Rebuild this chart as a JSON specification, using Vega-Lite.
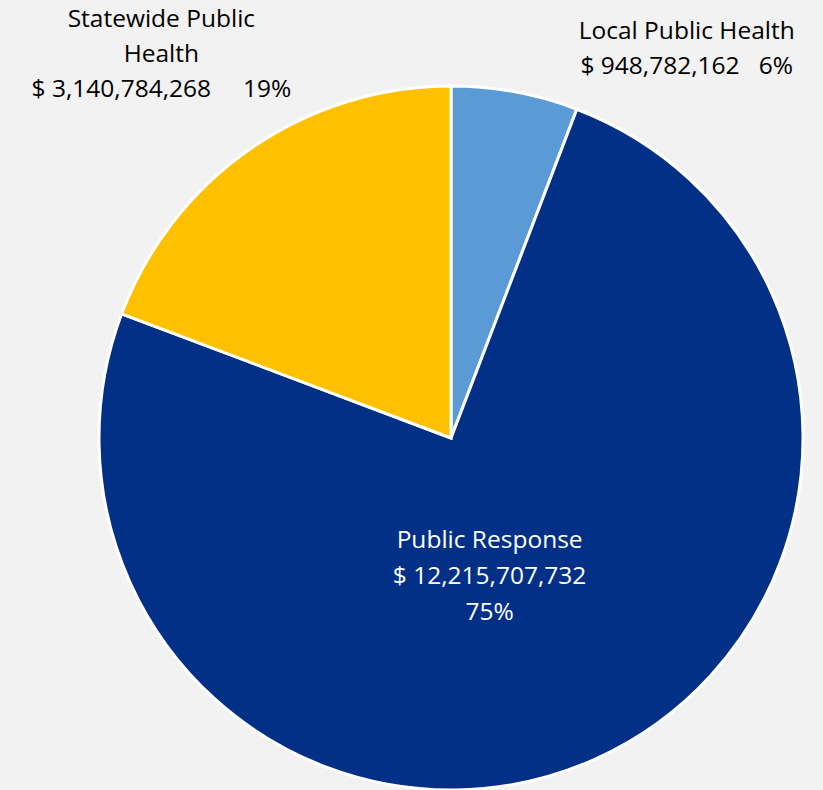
{
  "$schema": "https://vega.github.io/schema/vega-lite/v6.json",
  "width": 704,
  "height": 704,
  "autosize": {"type": "none"},
  "padding": {"left": 99, "top": 86, "right": 20, "bottom": 0},
  "background": "#f2f2f2",
  "config": {"view": {"stroke": null}},
  "data": {
    "values": [
      {"category": "Local Public Health", "amount": 948782162, "label": ["Local Public Health", "$ 948,782,162\u00a0\u00a0 6%"]},
      {"category": "Public Response", "amount": 12215707732, "label": ["Public Response", "$ 12,215,707,732", "75%"]},
      {"category": "Statewide Public Health", "amount": 3140784268, "label": ["Statewide Public", "Health", "$ 3,140,784,268\u00a0\u00a0\u00a0\u00a0 19%"]}
    ]
  },
  "encoding": {
    "theta": {"field": "amount", "type": "quantitative", "stack": true},
    "order": {"field": "category", "type": "ordinal", "sort": "ascending"}
  },
  "layer": [
    {
      "mark": {"type": "arc", "stroke": "white", "strokeWidth": 3},
      "encoding": {
        "color": {
          "field": "category",
          "type": "nominal",
          "scale": {"domain": ["Local Public Health", "Public Response", "Statewide Public Health"], "range": ["#5b9bd5", "#023087", "#ffc000"]},
          "legend": null
        }
      }
    },
    {
      "mark": {"type": "text", "radius": 455, "dx": 153, "dy": 41, "font": "Open Sans", "fontSize": 24.5, "lineHeight": 35.5, "align": "center", "baseline": "middle", "color": "#000000"},
      "encoding": {"text": {"condition": {"test": "datum.category === 'Local Public Health'", "field": "label"}, "value": ""}}
    },
    {
      "mark": {"type": "text", "radius": 143, "dx": -20, "dy": -27, "font": "Open Sans", "fontSize": 24.5, "lineHeight": 36, "align": "center", "baseline": "middle", "color": "#ffffff"},
      "encoding": {"text": {"condition": {"test": "datum.category === 'Public Response'", "field": "label"}, "value": ""}}
    },
    {
      "mark": {"type": "text", "radius": 481, "dx": -16, "dy": -22, "font": "Open Sans", "fontSize": 24.5, "lineHeight": 35, "align": "center", "baseline": "middle", "color": "#000000"},
      "encoding": {"text": {"condition": {"test": "datum.category === 'Statewide Public Health'", "field": "label"}, "value": ""}}
    }
  ]
}
